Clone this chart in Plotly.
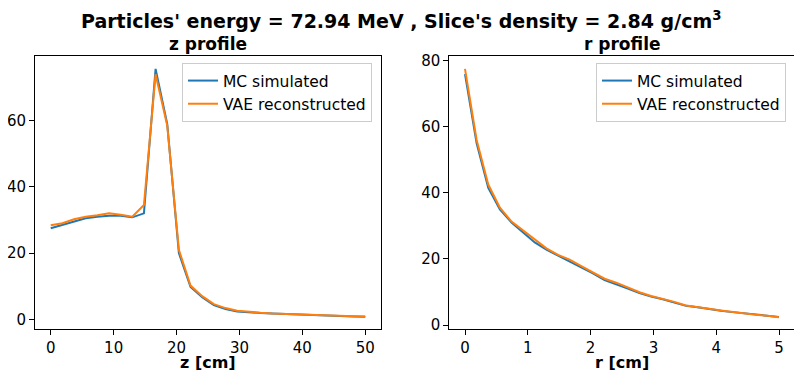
import numpy as np
import plotly.graph_objects as go

# ---------------- data ----------------
z_cm = np.linspace(0, 50, 28)
z_mc = [27.5, 28.5, 29.6, 30.5, 31.0, 31.3, 31.3, 30.8, 32.0, 75.6, 59.0, 20.0, 9.8, 6.7,
        4.3, 3.1, 2.4, 2.1, 1.9, 1.75, 1.6, 1.5, 1.35, 1.25, 1.1, 1.0, 0.9, 0.8]
z_vae = [28.4, 29.0, 30.2, 31.0, 31.4, 32.0, 31.6, 31.0, 34.5, 74.0, 58.5, 21.0, 10.2, 7.0,
         4.6, 3.4, 2.6, 2.2, 2.0, 1.8, 1.65, 1.55, 1.4, 1.3, 1.15, 1.05, 0.95, 0.85]

r_cm = np.linspace(0, 5, 28)
r_mc = [75.9, 55.0, 41.5, 35.0, 31.0, 28.0, 25.0, 22.8, 21.0, 19.4, 17.5, 15.6, 13.6, 12.4,
        11.0, 9.7, 8.6, 7.8, 6.8, 5.8, 5.4, 4.8, 4.3, 3.9, 3.5, 3.1, 2.8, 2.45]
r_vae = [77.5, 56.0, 42.5, 35.5, 31.3, 28.6, 25.8, 23.2, 21.2, 19.8, 17.8, 15.9, 14.0, 12.8,
         11.3, 9.9, 8.8, 8.0, 7.0, 5.9, 5.5, 4.9, 4.4, 3.9, 3.5, 3.1, 2.8, 2.35]

series_names = ["MC simulated", "VAE reconstructed"]
colors = ["#1f77b4", "#ff7f0e"]

main_title = "Particles' energy = 72.94 MeV , Slice's density = 2.84 g/cm<sup>3</sup>"
sub_titles = ["z profile", "r profile"]
x_titles = ["z [cm]", "r [cm]"]

# ---------------- figure ----------------
W, H = 802, 380
OFF = 8  # page body margin in the browser
FONT = "DejaVu Sans"

fig = go.Figure()

for name, col, ys in zip(series_names, colors, [z_mc, z_vae]):
    fig.add_trace(go.Scatter(x=z_cm, y=ys, mode="lines", name=name,
                             line=dict(color=col, width=2),
                             xaxis="x", yaxis="y", legend="legend"))
for name, col, ys in zip(series_names, colors, [r_mc, r_vae]):
    fig.add_trace(go.Scatter(x=r_cm, y=ys, mode="lines", name=name,
                             line=dict(color=col, width=2),
                             xaxis="x2", yaxis="y2", legend="legend2"))

def px_x(p):
    return (p - OFF) / W

def px_y(p):
    return 1 - (p - OFF) / H

axis_common = dict(showline=True, mirror=True, linecolor="black", linewidth=1,
                   ticks="outside", ticklen=5, tickwidth=1, tickcolor="black",
                   showgrid=False, zeroline=False, automargin=False,
                   tickfont=dict(family=FONT, size=15, color="black"))

ydom = [px_y(329.3), px_y(56)]

fig.update_layout(
    width=W, height=H,
    margin=dict(l=0, r=0, t=0, b=0),
    paper_bgcolor="white", plot_bgcolor="white",
    font=dict(family=FONT, color="black"),
    xaxis=dict(domain=[px_x(35), px_x(381)], range=[-2.5, 52.5], dtick=10,
               anchor="y", **axis_common),
    yaxis=dict(domain=ydom, range=[-3.0, 79.5], dtick=20, anchor="x", **axis_common),
    xaxis2=dict(domain=[px_x(449.3), px_x(794.7)], range=[-0.25, 5.25], dtick=1,
                anchor="y2", **axis_common),
    yaxis2=dict(domain=ydom, range=[-1.3, 81.4], dtick=20, anchor="x2", **axis_common),
    legend=dict(x=px_x(372), y=px_y(63), xanchor="right", yanchor="top",
                bgcolor="rgba(255,255,255,0.8)", bordercolor="#cccccc", borderwidth=1,
                font=dict(family=FONT, size=15.5, color="black")),
    legend2=dict(x=px_x(786), y=px_y(63), xanchor="right", yanchor="top",
                 bgcolor="rgba(255,255,255,0.8)", bordercolor="#cccccc", borderwidth=1,
                 font=dict(family=FONT, size=15.5, color="black")),
)

annotations = [
    dict(text="<b>" + main_title + "</b>", x=px_x(401), y=px_y(20), xref="paper", yref="paper",
         xanchor="center", yanchor="middle", showarrow=False,
         font=dict(family=FONT, size=19, color="black")),
    dict(text="<b>" + sub_titles[0] + "</b>", x=px_x(208), y=px_y(44), xref="paper", yref="paper",
         xanchor="center", yanchor="middle", showarrow=False,
         font=dict(family=FONT, size=17, color="black")),
    dict(text="<b>" + sub_titles[1] + "</b>", x=px_x(622), y=px_y(44), xref="paper", yref="paper",
         xanchor="center", yanchor="middle", showarrow=False,
         font=dict(family=FONT, size=17, color="black")),
    dict(text="<b>" + x_titles[0] + "</b>", x=px_x(208), y=px_y(362), xref="paper", yref="paper",
         xanchor="center", yanchor="middle", showarrow=False,
         font=dict(family=FONT, size=16, color="black")),
    dict(text="<b>" + x_titles[1] + "</b>", x=px_x(622), y=px_y(362), xref="paper", yref="paper",
         xanchor="center", yanchor="middle", showarrow=False,
         font=dict(family=FONT, size=16, color="black")),
]
fig.update_layout(annotations=annotations)

fig.write_html("out.html")
